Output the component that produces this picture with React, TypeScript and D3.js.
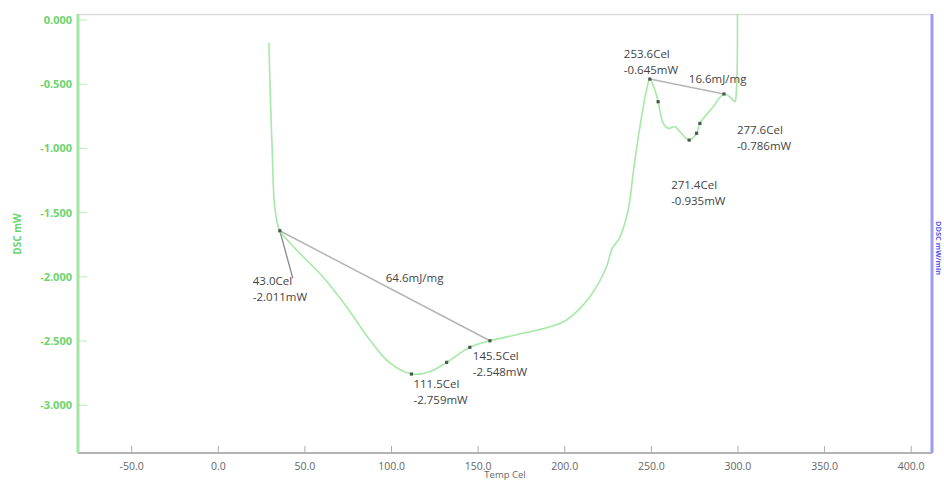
import React from 'react';
import * as d3 from 'd3';

// DSC trace (temperature in Cel, signal in mW)
const tempC = [
  29.2, 30.1, 31.1, 32.2, 33.5, 35.5, 45.2, 60.3, 74.0, 87.5, 99.0, 111.5, 122.1, 131.8, 145.2,
  156.8, 179.9, 191.4, 201.0, 214.5, 224.1, 227.3, 231.5, 235.7, 237.6, 239.5, 243.4, 247.2,
  249.1, 252.0, 253.9, 256.8, 259.7, 263.6, 266.5, 271.8, 276.1, 278.0, 285.7, 291.9, 296.3,
  298.2, 299.2, 299.7,
];
const dscMw = [
  -0.177, -0.623, -1.012, -1.402, -1.542, -1.641, -1.791, -1.999, -2.233, -2.492, -2.671, -2.757,
  -2.739, -2.666, -2.549, -2.498, -2.428, -2.389, -2.336, -2.155, -1.921, -1.78, -1.7, -1.532,
  -1.402, -1.192, -0.831, -0.545, -0.46, -0.545, -0.636, -0.802, -0.843, -0.831, -0.87, -0.935,
  -0.882, -0.805, -0.675, -0.576, -0.61, -0.636, -0.519, 0.055,
];

// analysis markers on the curve
const markerT = [35.5, 111.5, 131.8, 145.2, 156.8, 249.1, 253.9, 271.8, 276.1, 278.0, 291.9];
const markerV = [-1.641, -2.757, -2.666, -2.549, -2.498, -0.46, -0.636, -0.935, -0.882, -0.805, -0.576];

// baselines of the two peak integrations: [t1, v1, t2, v2]
const baselines = [
  [35.5, -1.641, 156.8, -2.498],
  [249.1, -0.46, 291.9, -0.576],
];
const leader = [35.5, -1.641, 43.0, -2.011];

// annotation texts and where they hang
const annoLines = [
  ['253.6Cel', '-0.645mW'],
  ['16.6mJ/mg'],
  ['277.6Cel', '-0.786mW'],
  ['271.4Cel', '-0.935mW'],
  ['43.0Cel', '-2.011mW'],
  ['64.6mJ/mg'],
  ['145.5Cel', '-2.548mW'],
  ['111.5Cel', '-2.759mW'],
];
const annoAnchorT = [249.1, 249.1, 278.0, 271.8, 43.0, 35.5, 145.2, 111.5];
const annoAnchorV = [-0.46, -0.46, -0.805, -0.935, -2.011, -1.641, -2.549, -2.757];
const annoOffset = [
  [-26, -21], [39, 4], [37, 11], [-18, 49], [-40, 7], [106, 51], [3, 13], [2, 14],
];

const xTicks = [-50, 0, 50, 100, 150, 200, 250, 300, 350, 400];
const yTicks = [0, -0.5, -1, -1.5, -2, -2.5, -3];

const W = 944;
const H = 480;
const plot = { left: 78, right: 932, top: 14, bottom: 453 };

export default function App() {
  const x = d3.scaleLinear().domain([-81, 412]).range([plot.left, plot.right]);
  const y = d3.scaleLinear().domain([0.047, -3.372]).range([plot.top, plot.bottom]);

  const pts: [number, number][] = tempC.map((t, i) => [t, dscMw[i]]);
  const line = d3
    .line<[number, number]>()
    .x(d => x(d[0]))
    .y(d => y(d[1]))
    .curve(d3.curveCatmullRom.alpha(0.5));

  const font = "'Open Sans', 'DejaVu Sans', sans-serif";

  return (
    <div style={{ position: 'absolute', left: 0, top: 0 }}>
      <svg width={W} height={H} style={{ display: 'block', background: '#fff' }}>
        <defs>
          <clipPath id="plot-clip">
            <rect x={plot.left} y={plot.top} width={plot.right - plot.left} height={plot.bottom - plot.top} />
          </clipPath>
        </defs>

        {/* top frame line */}
        <line x1={plot.left} x2={plot.right} y1={plot.top + 0.5} y2={plot.top + 0.5} stroke="#dcdcdc" strokeWidth={1.5} />

        {/* x axis */}
        <line x1={plot.left} x2={plot.right} y1={plot.bottom} y2={plot.bottom} stroke="#9a9a9a" strokeWidth={1.5} />
        {xTicks.map(t => (
          <g key={t}>
            <line x1={x(t)} x2={x(t)} y1={plot.bottom - 7} y2={plot.bottom} stroke="#aaa" strokeWidth={1} />
            <text x={x(t)} y={470} textAnchor="middle" fontFamily={font} fontSize={10.5} fill="#666">
              {t.toFixed(1)}
            </text>
          </g>
        ))}
        <text x={505} y={478} textAnchor="middle" fontFamily={font} fontSize={9.5} fill="#666">
          Temp Cel
        </text>

        {/* y axis */}
        {yTicks.map(t => (
          <g key={t}>
            <line x1={plot.left} x2={plot.left + 9} y1={y(t)} y2={y(t)} stroke="#b8ecb8" strokeWidth={1} />
            <text x={72} y={y(t) + 4} textAnchor="end" fontFamily={font} fontSize={11} fontWeight="bold" fill="#6cd46c">
              {t === 0 ? '0.000' : t.toFixed(3)}
            </text>
          </g>
        ))}
        <line x1={plot.left} x2={plot.left} y1={plot.top} y2={plot.bottom} stroke="#a2e6a2" strokeWidth={3} />
        <text
          transform="translate(21,234) rotate(-90)"
          textAnchor="middle"
          fontFamily={font}
          fontSize={10}
          fontWeight="bold"
          fill="#6cd46c"
        >
          DSC mW
        </text>

        {/* right axis */}
        <line x1={plot.right} x2={plot.right} y1={plot.top} y2={plot.bottom} stroke="#9c9cf6" strokeWidth={3} />
        <text transform="translate(936,248) rotate(90)" textAnchor="middle" fontFamily={font} fontSize={7.5} fontWeight="bold" fill="#5a5af0">
          DDSC mW/min
        </text>

        <g clipPath="url(#plot-clip)">
          {/* baselines */}
          {baselines.map((b, i) => (
            <line key={i} x1={x(b[0])} y1={y(b[1])} x2={x(b[2])} y2={y(b[3])} stroke="#b4b4b4" strokeWidth={1.5} />
          ))}
          <line x1={x(leader[0])} y1={y(leader[1])} x2={x(leader[2])} y2={y(leader[3])} stroke="#8a8a8a" strokeWidth={1.3} />

          {/* curve */}
          <path d={line(pts) || ''} fill="none" stroke="#a6e8a6" strokeWidth={1.6} />

          {/* markers */}
          {markerT.map((t, i) => (
            <rect key={i} x={x(t) - 1.6} y={y(markerV[i]) - 1.6} width={3.2} height={3.2} fill="#4a5a4a" />
          ))}
        </g>

        {/* annotations */}
        {annoLines.map((lines, i) => {
          const ax = x(annoAnchorT[i]) + annoOffset[i][0];
          const ay = y(annoAnchorV[i]) + annoOffset[i][1];
          return (
            <text key={i} x={ax} y={ay} fontFamily={font} fontSize={11.5} fill="#444">
              {lines.map((s, j) => (
                <tspan key={j} x={ax} y={ay + j * 16}>
                  {s}
                </tspan>
              ))}
            </text>
          );
        })}
      </svg>
    </div>
  );
}
